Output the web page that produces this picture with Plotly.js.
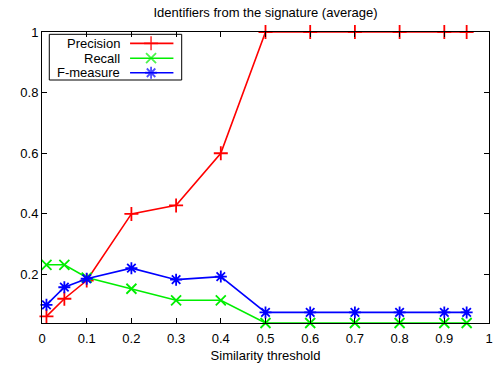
<!DOCTYPE html>
<html><head><meta charset="utf-8">
<script src="https://cdn.plot.ly/plotly-3.0.1.min.js"></script>
<style>html,body{margin:0;padding:0;background:#fff}#c{width:498px;height:369px}</style>
</head><body><div id="c"></div>
<script>
const thresholds = [0.01, 0.05, 0.1, 0.2, 0.3, 0.4, 0.5, 0.6, 0.7, 0.8, 0.9, 0.95];
const precision  = [0.062, 0.12, 0.18, 0.40, 0.428, 0.60, 1, 1, 1, 1, 1, 1];
const recall     = [0.232, 0.232, 0.19, 0.153, 0.115, 0.115, 0.04, 0.04, 0.04, 0.04, 0.04, 0.04];
const fmeasure   = [0.10, 0.158, 0.186, 0.221, 0.183, 0.193, 0.075, 0.075, 0.075, 0.075, 0.075, 0.075];
const seriesNames = ["Precision", "Recall", "F-measure"];
const xTicks = [0, 0.1, 0.2, 0.3, 0.4, 0.5, 0.6, 0.7, 0.8, 0.9, 1];
const xTickText = ["0", "0.1", "0.2", "0.3", "0.4", "0.5", "0.6", "0.7", "0.8", "0.9", "1"];
const yTicks = [0.2, 0.4, 0.6, 0.8, 1];
const yTickText = ["0.2", "0.4", "0.6", "0.8", "1"];

const colors = ["#ff0000", "#00ee00", "#0000ff"];
const symbols = ["cross-thin-open", "x-thin-open", "asterisk-open"];
const values = [precision, recall, fmeasure];
const font = "Liberation Sans, Arial, Helvetica, sans-serif";
const fs = 13;

const traces = values.map((v, i) => ({
  x: thresholds, y: v, type: "scatter", mode: "lines+markers",
  name: seriesNames[i], showlegend: false, cliponaxis: false,
  line: {color: colors[i], width: 1.6},
  marker: {symbol: symbols[i], size: 10, color: colors[i], line: {color: colors[i], width: 1.8}}
}));

// custom gnuplot-style legend (text left, sample right)
const legRows = [0.961, 0.910, 0.860];
const annotations = [];
const shapes = [{type: "rect", xref: "paper", yref: "paper", x0: 0.0163, x1: 0.3125, y0: 0.835, y1: 0.992,
  line: {color: "#000", width: 1}, fillcolor: "rgba(0,0,0,0)", layer: "above"}];
seriesNames.forEach((n, i) => {
  annotations.push({xref: "paper", yref: "paper", x: 0.178, y: legRows[i], xanchor: "right", yanchor: "middle",
    align: "right", text: n, showarrow: false, font: {family: font, size: fs, color: "#000"}});
  traces.push({x: [0.197, 0.244, 0.294], y: [legRows[i], legRows[i], legRows[i]], xaxis: "x2", yaxis: "y2",
    type: "scatter", mode: "lines+markers", showlegend: false, hoverinfo: "skip", cliponaxis: false,
    line: {color: colors[i], width: 1.6},
    marker: {symbol: symbols[i], size: [0, 10, 0], color: colors[i], line: {color: colors[i], width: 1.8}}});
});

const layout = {
  width: 498, height: 369,
  margin: {l: 42, r: 9, t: 32, b: 46},
  paper_bgcolor: "#fff", plot_bgcolor: "#fff",
  font: {family: font, size: fs, color: "#000"},
  title: {text: "Identifiers from the signature (average)", font: {family: font, size: fs, color: "#000"},
    x: 0.5, xanchor: "center", y: 0.965, yanchor: "middle", xref: "paper"},
  xaxis: {range: [0, 1], tickvals: xTicks, ticktext: xTickText, ticks: "inside", ticklen: 5,
    mirror: "allticks", showline: true, linecolor: "#000", linewidth: 1, tickcolor: "#000",
    showgrid: false, zeroline: false, tickfont: {size: fs}, ticklabelstandoff: 3,
    title: {text: "Similarity threshold", font: {size: fs}, standoff: 6}},
  yaxis: {range: [0.04, 1], tickvals: yTicks, ticktext: yTickText, ticks: "inside", ticklen: 5,
    mirror: "allticks", showline: true, linecolor: "#000", linewidth: 1, tickcolor: "#000",
    showgrid: false, zeroline: false, tickfont: {size: fs}},
  xaxis2: {range: [0, 1], overlaying: "x", visible: false, anchor: "y2"},
  yaxis2: {range: [0, 1], overlaying: "y", visible: false, anchor: "x2"},
  shapes: shapes, annotations: annotations
};
Plotly.newPlot("c", traces, layout, {staticPlot: true, displayModeBar: false});
</script></body></html>
